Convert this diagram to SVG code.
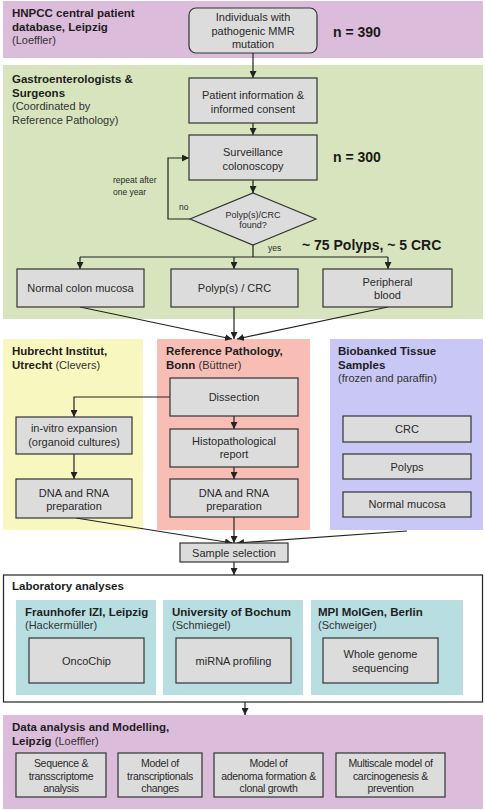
<svg xmlns="http://www.w3.org/2000/svg" width="485" height="810" viewBox="0 0 485 810">
<defs>
<marker id="ah" viewBox="0 0 10 10" refX="10" refY="5" markerWidth="7" markerHeight="7" orient="auto" markerUnits="userSpaceOnUse">
<path d="M0,0 L10,5 L0,10 z" fill="#222"/>
</marker>
<style>
text{font-family:"Liberation Sans",Arial,sans-serif;fill:#2a2a2a}
.t{font-size:11px;text-anchor:middle}
.h{font-size:11.5px;font-weight:bold;fill:#1e1e1e}
.s{font-size:11px;font-weight:normal;fill:#333}
.n{font-size:14px;font-weight:bold;fill:#1a1a1a}
.sm{font-size:8.5px}
.box{fill:#dcdcdc;stroke:#333;stroke-width:1.2}
.c{stroke:#222;stroke-width:1.2;fill:none}
.ca{stroke:#222;stroke-width:1.2;fill:none;marker-end:url(#ah)}
.m{font-size:10.5px;text-anchor:middle;letter-spacing:-0.3px}
</style>
</defs>

<!-- bands -->
<g id="band-hnpcc">
<rect x="3" y="1" width="480" height="57" fill="#dbbcdb"/>
<text x="12" y="17" class="h">HNPCC central patient</text>
<text x="12" y="30.5" class="h">database, Leipzig</text>
<text x="12" y="44" class="s">(Loeffler)</text>
<text x="333" y="37" class="n">n = 390</text>
</g>
<g id="band-gastro">
<rect x="3" y="65" width="480" height="254" fill="#d7e4bd"/>
<text x="12" y="83" class="h">Gastroenterologists &amp;</text>
<text x="12" y="96.5" class="h">Surgeons</text>
<text x="12" y="110" class="s">(Coordinated by</text>
<text x="12" y="123.5" class="s">Reference Pathology)</text>
<text x="333" y="162" class="n">n = 300</text>
<text x="302" y="250" class="n">~ 75 Polyps, ~ 5 CRC</text>
<text x="113" y="183" class="sm">repeat after</text>
<text x="113" y="195" class="sm">one year</text>
<text x="179" y="210" class="sm">no</text>
<text x="268" y="251" class="sm">yes</text>
</g>
<g id="panel-hubrecht">
<rect x="3" y="339" width="140" height="191" fill="#f9f7c0"/>
<text x="12" y="355" class="h">Hubrecht Institut,</text>
<text x="12" y="368.5" class="h">Utrecht <tspan class="s">(Clevers)</tspan></text>
</g>
<g id="panel-refpath">
<rect x="157" y="339" width="153" height="191" fill="#f8beb6"/>
<text x="166" y="355" class="h">Reference Pathology,</text>
<text x="166" y="368.5" class="h">Bonn <tspan class="s">(Büttner)</tspan></text>
</g>
<g id="panel-biobank">
<rect x="330" y="339" width="153" height="191" fill="#c9c7f5"/>
<text x="338" y="355" class="h">Biobanked Tissue</text>
<text x="338" y="368.5" class="h">Samples</text>
<text x="338" y="382" class="s">(frozen and paraffin)</text>
</g>
<g id="lab">
<rect x="3.5" y="575" width="479" height="127" fill="#fff" stroke="#222" stroke-width="1.2"/>
<text x="12" y="590" class="h">Laboratory analyses</text>
<rect x="16" y="600" width="140" height="95" fill="#b8dee1"/>
<rect x="163" y="600" width="140" height="95" fill="#b8dee1"/>
<rect x="311" y="600" width="152" height="95" fill="#b8dee1"/>
<text x="25" y="616" class="h">Fraunhofer IZI, Leipzig</text>
<text x="25" y="629" class="s">(Hackermüller)</text>
<text x="172" y="616" class="h">University of Bochum</text>
<text x="172" y="629" class="s">(Schmiegel)</text>
<text x="318" y="616" class="h">MPI MolGen, Berlin</text>
<text x="318" y="629" class="s">(Schweiger)</text>
</g>
<g id="band-data">
<rect x="3" y="715" width="480" height="94" fill="#dbbcdb"/>
<text x="12" y="731" class="h">Data analysis and Modelling,</text>
<text x="12" y="745" class="h">Leipzig <tspan class="s">(Loeffler)</tspan></text>
</g>

<!-- connectors -->
<g id="connectors">
<line x1="253" y1="53" x2="253" y2="78" class="ca"/>
<line x1="253" y1="123" x2="253" y2="135" class="ca"/>
<line x1="253" y1="180" x2="253" y2="193" class="ca"/>
<polyline points="190,219 168,219 168,158 189,158" class="ca"/>
<line x1="253" y1="245" x2="253" y2="257" class="c"/>
<line x1="80" y1="257" x2="388" y2="257" class="c"/>
<line x1="80" y1="257" x2="80" y2="269" class="ca"/>
<line x1="234" y1="257" x2="234" y2="269" class="ca"/>
<line x1="388" y1="257" x2="388" y2="269" class="ca"/>
<line x1="80" y1="307" x2="232" y2="339" class="ca"/>
<line x1="234" y1="307" x2="234" y2="339" class="ca"/>
<line x1="388" y1="307" x2="237" y2="339" class="ca"/>
<polyline points="170,397 74,397 74,417" class="ca"/>
<line x1="74" y1="454" x2="74" y2="479" class="ca"/>
<line x1="234" y1="416" x2="234" y2="429" class="ca"/>
<line x1="234" y1="467" x2="234" y2="479" class="ca"/>
<line x1="76" y1="518" x2="232" y2="543" class="ca"/>
<line x1="234" y1="517" x2="234" y2="543" class="ca"/>
<line x1="407" y1="531" x2="237" y2="543" class="ca"/>
<line x1="234" y1="562" x2="234" y2="575" class="ca"/>
<line x1="245" y1="702" x2="245" y2="715" class="ca"/>
</g>

<!-- nodes -->
<g id="n-individuals">
<rect x="189" y="8" width="128" height="45" rx="7" class="box"/>
<text x="253" y="21" class="t">Individuals with</text>
<text x="253" y="34.5" class="t">pathogenic MMR</text>
<text x="253" y="48" class="t">mutation</text>
</g>
<g id="n-consent">
<rect x="189" y="78" width="128" height="45" class="box"/>
<text x="253" y="99" class="t">Patient information &amp;</text>
<text x="253" y="112.5" class="t">informed consent</text>
</g>
<g id="n-surveillance">
<rect x="189" y="135" width="128" height="45" class="box"/>
<text x="253" y="156" class="t">Surveillance</text>
<text x="253" y="169.5" class="t">colonoscopy</text>
</g>
<g id="n-decision">
<polygon points="253,193 316,219 253,245 190,219" class="box"/>
<text x="253" y="218" class="t" style="font-size:9px">Polyp(s)/CRC</text>
<text x="253" y="228" class="t" style="font-size:9px">found?</text>
</g>
<g id="n-normal">
<rect x="17" y="269" width="127" height="38" class="box"/>
<text x="80.5" y="292" class="t">Normal colon mucosa</text>
</g>
<g id="n-polyp">
<rect x="171" y="269" width="127" height="38" class="box"/>
<text x="234.5" y="292" class="t">Polyp(s) / CRC</text>
</g>
<g id="n-blood">
<rect x="323" y="269" width="129" height="38" class="box"/>
<text x="387.5" y="286" class="t">Peripheral</text>
<text x="387.5" y="299" class="t">blood</text>
</g>
<g id="n-dissection">
<rect x="170" y="378" width="128" height="38" class="box"/>
<text x="234" y="401" class="t">Dissection</text>
</g>
<g id="n-invitro">
<rect x="16" y="417" width="116" height="37" class="box"/>
<text x="74" y="432" class="t">in-vitro expansion</text>
<text x="74" y="446" class="t">(organoid cultures)</text>
</g>
<g id="n-dna-left">
<rect x="16" y="479" width="116" height="39" class="box"/>
<text x="74" y="497" class="t">DNA and RNA</text>
<text x="74" y="510" class="t">preparation</text>
</g>
<g id="n-histo">
<rect x="170" y="429" width="128" height="38" class="box"/>
<text x="234" y="445" class="t">Histopathological</text>
<text x="234" y="458" class="t">report</text>
</g>
<g id="n-dna-right">
<rect x="170" y="479" width="128" height="38" class="box"/>
<text x="234" y="497" class="t">DNA and RNA</text>
<text x="234" y="510" class="t">preparation</text>
</g>
<g id="n-crc">
<rect x="343" y="416" width="128" height="26" class="box"/>
<text x="407" y="433" class="t">CRC</text>
</g>
<g id="n-polyps">
<rect x="343" y="454" width="128" height="25" class="box"/>
<text x="407" y="471" class="t">Polyps</text>
</g>
<g id="n-normal-mucosa">
<rect x="343" y="492" width="128" height="25" class="box"/>
<text x="407" y="508" class="t">Normal mucosa</text>
</g>
<g id="n-sample">
<rect x="180" y="543" width="108" height="19" class="box"/>
<text x="234" y="557" class="t">Sample selection</text>
</g>
<g id="n-oncochip">
<rect x="29" y="638" width="115" height="45" class="box"/>
<text x="86.5" y="665" class="t">OncoChip</text>
</g>
<g id="n-mirna">
<rect x="176" y="638" width="115" height="45" class="box"/>
<text x="233.5" y="665" class="t">miRNA profiling</text>
</g>
<g id="n-wgs">
<rect x="323" y="638" width="115" height="45" class="box"/>
<text x="380.5" y="658" class="t">Whole genome</text>
<text x="380.5" y="672" class="t">sequencing</text>
</g>
<g id="n-seq">
<rect x="16" y="753" width="90" height="44" class="box"/>
<text x="61" y="767" class="m">Sequence &amp;</text>
<text x="61" y="779.5" class="m">transscriptome</text>
<text x="61" y="792" class="m">analysis</text>
</g>
<g id="n-model-trans">
<rect x="118" y="753" width="84" height="44" class="box"/>
<text x="160" y="767" class="m">Model of</text>
<text x="160" y="779.5" class="m">transcriptionals</text>
<text x="160" y="792" class="m">changes</text>
</g>
<g id="n-model-adenoma">
<rect x="214" y="753" width="109" height="44" class="box"/>
<text x="268.5" y="767" class="m">Model of</text>
<text x="268.5" y="779.5" class="m">adenoma formation &amp;</text>
<text x="268.5" y="792" class="m">clonal growth</text>
</g>
<g id="n-multiscale">
<rect x="336" y="753" width="109" height="44" class="box"/>
<text x="390.5" y="767" class="m">Multiscale model of</text>
<text x="390.5" y="779.5" class="m">carcinogenesis &amp;</text>
<text x="390.5" y="792" class="m">prevention</text>
</g>
</svg>
